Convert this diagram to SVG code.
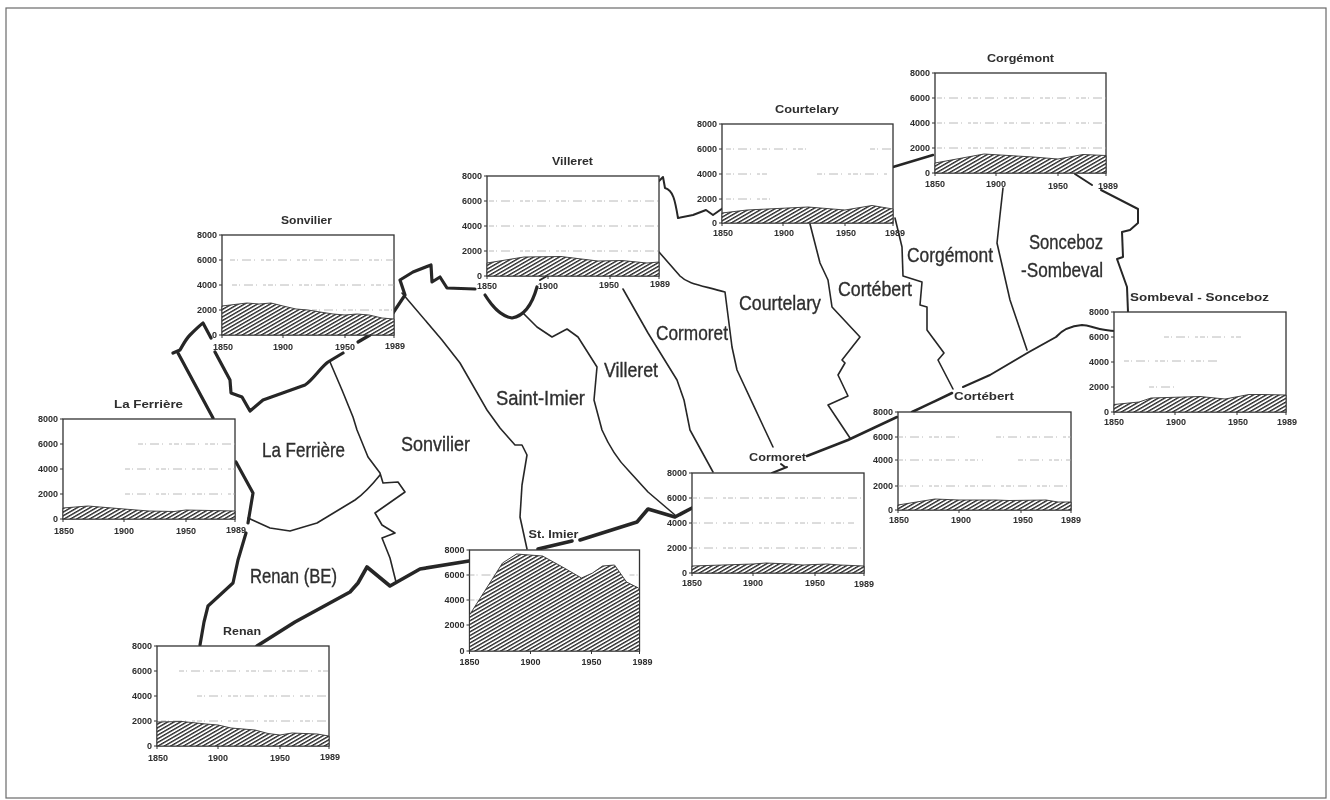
<svg xmlns="http://www.w3.org/2000/svg" width="1330" height="800" viewBox="0 0 1330 800">
<style>
.bg{fill:#fff}
.frame{fill:none;stroke:#6a6a6a;stroke-width:1.2}
.b{fill:none;stroke:#262626;stroke-linejoin:round;stroke-linecap:round}
.t1{stroke-width:1.6}.t2{stroke-width:2}.t25{stroke-width:2.5}.t3{stroke-width:3.2}.t4{stroke-width:3.6}
.box{fill:#fff;stroke:#333;stroke-width:1.3}
.area{fill:url(#hatch);stroke:#333;stroke-width:.9}
.grid{fill:none;stroke:#a8a8a8;stroke-width:.8;stroke-dasharray:5 2 1 4 9 3 1 6 3 2}
.tick{fill:none;stroke:#333;stroke-width:1}
text{font-family:"Liberation Sans",Arial,sans-serif;fill:#2e2e2e}
.ax{font-size:9px;font-weight:700}
.yl{text-anchor:end}.xl{text-anchor:middle}
.ti{font-size:11.5px;font-weight:700}
.map{font-size:21px;stroke:#2e2e2e;stroke-width:.35}
</style>
<defs>
<pattern id="hatch" width="3.2" height="3.2" patternUnits="userSpaceOnUse" patternTransform="rotate(-30)">
<rect width="3.2" height="3.2" fill="#fff"/>
<rect width="3.2" height="1.4" fill="#2a2a2a"/>
</pattern>
<filter id="soft" x="0" y="0" width="100%" height="100%"><feGaussianBlur stdDeviation="0.3"/></filter>
</defs>
<rect class="bg" width="1330" height="800"/>
<rect class="frame" x="6" y="8" width="1320" height="790"/>
<g filter="url(#soft)">
<g id="connectors">
<path class="b t3" d="M173 353L180 350C184 343 186 339 190 335C195 330 199 326 203 323L211 338"/>
<path class="b t3" d="M178 353L213 418"/>
<path class="b t3" d="M236 462L253 493L248 523"/>
<path class="b t3" d="M246 533L238 560L233 583L220 595L208 606L204 622L200 645"/>
<path class="b t3" d="M215 352L230 380L231 393L242 397L250 411L263 400L305 385C313 380 320 368 328 362L343 353"/>
<path class="b t3" d="M358 342L370 335"/>
<path class="b t3" d="M393 313L405 295L400 280L413 272L431 265L432 282L440 277L447 288L475 289"/>
<path class="b t3" d="M485 295C492 306 500 316 512 318C524 316 532 305 537 287"/>
<path class="b t2" d="M540 280L547 276"/>
<path class="b t2" d="M658 182L663 177L665 188C673 190 675 200 678 218L693 215L706 210L713 215L723 208"/>
<path class="b t25" d="M893 167L933 155"/>
<path class="b t2" d="M1075 174L1092 185"/>
<path class="b t2" d="M1101 190L1138 209L1138 223L1130 230L1122 232L1123 257L1117 259L1127 287L1128 312"/>
<path class="b t4" d="M257 646L295 622L350 592L358 583L367 567L390 586L397 582L420 569L469 561"/>
<path class="b t4" d="M538 549L572 541"/>
<path class="b t4" d="M580 540L637 522L648 509L675 517L692 508"/>
<path class="b t2" d="M772 473L787 467M781 464L785 467"/>
<path class="b t25" d="M807 456L848 440L897 417"/>
<path class="b t25" d="M912 412L952 393"/>
<path class="b t2" d="M963 387L990 375L1029 352L1056 337C1062 330 1070 326 1082 325C1090 325 1100 331 1116 331"/>
<path class="b t1" d="M330 362L342 390L353 417L357 430L368 457L380 473L383 483L398 482L405 492L375 513L382 525L395 533L382 538L390 558L396 582"/>
<path class="b t1" d="M248 518L270 528L290 531L317 523L355 500C365 493 372 485 380 475"/>
<path class="b t1" d="M402 293L442 340L460 363L487 410L500 428L515 445L522 445L527 455L522 485L520 517L527 549"/>
<path class="b t1" d="M523 313L537 327L552 337L567 329L578 337L597 367L594 400L602 430C610 448 618 460 628 470L648 492L675 515"/>
<path class="b t1" d="M623 289L648 333L677 380L684 400L690 430L713 472"/>
<path class="b t1" d="M659 252L680 276C688 284 700 285 725 292L732 347L737 370L765 430L773 447"/>
<path class="b t1" d="M810 224L820 263L828 280L832 307L860 337L842 360L845 363L838 375L848 396L828 405L836 417L850 438"/>
<path class="b t1" d="M895 218L902 247L903 276L922 282L920 305L927 307L927 330L944 353L938 360L953 389"/>
<path class="b t1" d="M1003 188L1000 215L997 243L1010 300L1027 350"/>
</g>
<g id="map-labels">
<text class="map" x="262" y="457" textLength="83" lengthAdjust="spacingAndGlyphs">La Ferrière</text>
<text class="map" x="401" y="451" textLength="69" lengthAdjust="spacingAndGlyphs">Sonvilier</text>
<text class="map" x="250" y="583" textLength="87" lengthAdjust="spacingAndGlyphs">Renan (BE)</text>
<text class="map" x="496" y="405" textLength="89" lengthAdjust="spacingAndGlyphs">Saint-Imier</text>
<text class="map" x="604" y="377" textLength="54" lengthAdjust="spacingAndGlyphs">Villeret</text>
<text class="map" x="656" y="340" textLength="72" lengthAdjust="spacingAndGlyphs">Cormoret</text>
<text class="map" x="739" y="310" textLength="82" lengthAdjust="spacingAndGlyphs">Courtelary</text>
<text class="map" x="838" y="296" textLength="74" lengthAdjust="spacingAndGlyphs">Cortébert</text>
<text class="map" x="907" y="262" textLength="86" lengthAdjust="spacingAndGlyphs">Corgémont</text>
<text class="map" x="1029" y="249" textLength="74" lengthAdjust="spacingAndGlyphs">Sonceboz</text>
<text class="map" x="1021" y="277" textLength="82" lengthAdjust="spacingAndGlyphs">-Sombeval</text>
</g>
<g id="sonvilier" transform="translate(222 235)">
<text class="ti" x="59" y="-11" textLength="51" lengthAdjust="spacingAndGlyphs">Sonvilier</text>
<rect class="box" width="172" height="100"/>
<path class="grid" d="M8 25H172M10 50H172M90 75H172"/>
<path class="area" d="M0 100V71L25 68L37 69L49 68L61 71L74 74L86 75L98 77L111 79L123 80L135 79L147 80L160 83L172 84V100Z"/>
<path class="tick" d="M-3 0H0M-3 25H0M-3 50H0M-3 75H0M-3 100H0M0 100V103M61 100V103M123 100V103M172 100V103"/>
<text class="ax yl" x="-5" y="3">8000</text><text class="ax yl" x="-5" y="28">6000</text><text class="ax yl" x="-5" y="53">4000</text><text class="ax yl" x="-5" y="78">2000</text><text class="ax yl" x="-5" y="103">0</text>
<text class="ax xl" x="1" y="115">1850</text><text class="ax xl" x="61" y="115">1900</text><text class="ax xl" x="123" y="115">1950</text><text class="ax xl" x="173" y="114">1989</text>
</g>
<g id="la-ferriere" transform="translate(63 419)">
<text class="ti" x="51" y="-11" textLength="69" lengthAdjust="spacingAndGlyphs">La Ferrière</text>
<rect class="box" width="172" height="100"/>
<path class="grid" d="M75 25H172M62 50H172M62 75H172"/>
<path class="area" d="M0 100V89L25 87L61 90L86 92L111 92.500L123 91L172 92V100Z"/>
<path class="tick" d="M-3 0H0M-3 25H0M-3 50H0M-3 75H0M-3 100H0M0 100V103M61 100V103M123 100V103M172 100V103"/>
<text class="ax yl" x="-5" y="3">8000</text><text class="ax yl" x="-5" y="28">6000</text><text class="ax yl" x="-5" y="53">4000</text><text class="ax yl" x="-5" y="78">2000</text><text class="ax yl" x="-5" y="103">0</text>
<text class="ax xl" x="1" y="115">1850</text><text class="ax xl" x="61" y="115">1900</text><text class="ax xl" x="123" y="115">1950</text><text class="ax xl" x="173" y="114">1989</text>
</g>
<g id="renan" transform="translate(157 646)">
<text class="ti" x="66" y="-11" textLength="38" lengthAdjust="spacingAndGlyphs">Renan</text>
<rect class="box" width="172" height="100"/>
<path class="grid" d="M22 25H172M40 50H172M4 75H172"/>
<path class="area" d="M0 100V76L25 75.500L49 78L61 79L74 82L98 84L111 87.500L123 89L135 87L160 88L172 90V100Z"/>
<path class="tick" d="M-3 0H0M-3 25H0M-3 50H0M-3 75H0M-3 100H0M0 100V103M61 100V103M123 100V103M172 100V103"/>
<text class="ax yl" x="-5" y="3">8000</text><text class="ax yl" x="-5" y="28">6000</text><text class="ax yl" x="-5" y="53">4000</text><text class="ax yl" x="-5" y="78">2000</text><text class="ax yl" x="-5" y="103">0</text>
<text class="ax xl" x="1" y="115">1850</text><text class="ax xl" x="61" y="115">1900</text><text class="ax xl" x="123" y="115">1950</text><text class="ax xl" x="173" y="114">1989</text>
</g>
<g id="st-imier" transform="translate(469.500 550)">
<text class="ti" x="59" y="-12" textLength="50" lengthAdjust="spacingAndGlyphs">St. Imier</text>
<rect class="box" width="170" height="101"/>
<path class="grid" d="M0 25H30M0 50H15M160 25H170"/>
<path class="area" d="M0 101V65L33 13L47 4L73 6L93 17L112 28L123 23L133 16L145 15L157 32L169 38L170 39V101Z"/>
<path class="tick" d="M-3 0H0M-3 25H0M-3 50H0M-3 75H0M-3 101H0M0 101V104M61 101V104M122 101V104M170 101V104"/>
<text class="ax yl" x="-5" y="3">8000</text><text class="ax yl" x="-5" y="28">6000</text><text class="ax yl" x="-5" y="53">4000</text><text class="ax yl" x="-5" y="78">2000</text><text class="ax yl" x="-5" y="104">0</text>
<text class="ax xl" x="0" y="115">1850</text><text class="ax xl" x="61" y="115">1900</text><text class="ax xl" x="122" y="115">1950</text><text class="ax xl" x="173" y="115">1989</text>
</g>
<g id="villeret" transform="translate(487 176)">
<text class="ti" x="65" y="-11" textLength="41" lengthAdjust="spacingAndGlyphs">Villeret</text>
<rect class="box" width="172" height="100"/>
<path class="grid" d="M2 25H172M2 50H172M2 75H172"/>
<path class="area" d="M0 100V87L37 81L74 80.500L111 85L135 84.500L160 87L172 86V100Z"/>
<path class="tick" d="M-3 0H0M-3 25H0M-3 50H0M-3 75H0M-3 100H0M0 100V103M61 100V103M123 100V103M172 100V103"/>
<text class="ax yl" x="-5" y="3">8000</text><text class="ax yl" x="-5" y="28">6000</text><text class="ax yl" x="-5" y="53">4000</text><text class="ax yl" x="-5" y="78">2000</text><text class="ax yl" x="-5" y="103">0</text>
<text class="ax xl" x="0" y="113">1850</text><text class="ax xl" x="61" y="113">1900</text><text class="ax xl" x="122" y="112">1950</text><text class="ax xl" x="173" y="111">1989</text>
</g>
<g id="courtelary" transform="translate(722 124)">
<text class="ti" x="53" y="-11" textLength="64" lengthAdjust="spacingAndGlyphs">Courtelary</text>
<rect class="box" width="171" height="99"/>
<path class="grid" d="M4 25H85M148 25H171M4 50H45M95 50H165M4 75H52"/>
<path class="area" d="M0 99V89L25 86L86 83L123 86L150 81.500L171 85V99Z"/>
<path class="tick" d="M-3 0H0M-3 25H0M-3 50H0M-3 75H0M-3 99H0M0 99V102M61 99V102M123 99V102M171 99V102"/>
<text class="ax yl" x="-5" y="3">8000</text><text class="ax yl" x="-5" y="28">6000</text><text class="ax yl" x="-5" y="53">4000</text><text class="ax yl" x="-5" y="78">2000</text><text class="ax yl" x="-5" y="102">0</text>
<text class="ax xl" x="1" y="112">1850</text><text class="ax xl" x="62" y="112">1900</text><text class="ax xl" x="124" y="112">1950</text><text class="ax xl" x="173" y="112">1989</text>
</g>
<g id="corgemont" transform="translate(935 73)">
<text class="ti" x="52" y="-11" textLength="67" lengthAdjust="spacingAndGlyphs">Corgémont</text>
<rect class="box" width="171" height="100"/>
<path class="grid" d="M2 25H171M2 50H171M2 75H171"/>
<path class="area" d="M0 100V90L49 81L98 84L123 86L148 81.500L171 82.500V100Z"/>
<path class="tick" d="M-3 0H0M-3 25H0M-3 50H0M-3 75H0M-3 100H0M0 100V103M61 100V103M123 100V103M171 100V103"/>
<text class="ax yl" x="-5" y="3">8000</text><text class="ax yl" x="-5" y="28">6000</text><text class="ax yl" x="-5" y="53">4000</text><text class="ax yl" x="-5" y="78">2000</text><text class="ax yl" x="-5" y="103">0</text>
<text class="ax xl" x="0" y="114">1850</text><text class="ax xl" x="61" y="114">1900</text><text class="ax xl" x="123" y="116">1950</text><text class="ax xl" x="173" y="116">1989</text>
</g>
<g id="cormoret" transform="translate(692 473)">
<text class="ti" x="57" y="-12" textLength="57" lengthAdjust="spacingAndGlyphs">Cormoret</text>
<rect class="box" width="172" height="100"/>
<path class="grid" d="M0 25H172M0 50H162M0 75H172"/>
<path class="area" d="M0 100V93L61 91L74 90L98 91L111 92L135 91L148 92L172 93V100Z"/>
<path class="tick" d="M-3 0H0M-3 25H0M-3 50H0M-3 75H0M-3 100H0M0 100V103M61 100V103M123 100V103M172 100V103"/>
<text class="ax yl" x="-5" y="3">8000</text><text class="ax yl" x="-5" y="28">6000</text><text class="ax yl" x="-5" y="53">4000</text><text class="ax yl" x="-5" y="78">2000</text><text class="ax yl" x="-5" y="103">0</text>
<text class="ax xl" x="0" y="113">1850</text><text class="ax xl" x="61" y="113">1900</text><text class="ax xl" x="123" y="113">1950</text><text class="ax xl" x="172" y="114">1989</text>
</g>
<g id="cortebert" transform="translate(898 412)">
<text class="ti" x="56" y="-12" textLength="60" lengthAdjust="spacingAndGlyphs">Cortébert</text>
<rect class="box" width="173" height="98"/>
<path class="grid" d="M0 25H65M98 25H173M0 48H85M120 48H173M0 74H173"/>
<path class="area" d="M0 98V93L37 87L61 88L98 88L111 88.500L148 88L160 90L173 90V98Z"/>
<path class="tick" d="M-3 0H0M-3 25H0M-3 48H0M-3 74H0M-3 98H0M0 98V101M61 98V101M123 98V101M173 98V101"/>
<text class="ax yl" x="-5" y="3">8000</text><text class="ax yl" x="-5" y="28">6000</text><text class="ax yl" x="-5" y="51">4000</text><text class="ax yl" x="-5" y="77">2000</text><text class="ax yl" x="-5" y="101">0</text>
<text class="ax xl" x="1" y="111">1850</text><text class="ax xl" x="63" y="111">1900</text><text class="ax xl" x="125" y="111">1950</text><text class="ax xl" x="173" y="111">1989</text>
</g>
<g id="sombeval-sonceboz" transform="translate(1114 312)">
<text class="ti" x="16" y="-11" textLength="139" lengthAdjust="spacingAndGlyphs">Sombeval - Sonceboz</text>
<rect class="box" width="172" height="100"/>
<path class="grid" d="M50 25H128M10 49H105M35 75H63"/>
<path class="area" d="M0 100V92.500L25 90L37 86L86 84.500L111 87L135 82.500L148 82.500L172 83V100Z"/>
<path class="tick" d="M-3 0H0M-3 25H0M-3 50H0M-3 75H0M-3 100H0M0 100V103M61 100V103M123 100V103M172 100V103"/>
<text class="ax yl" x="-5" y="3">8000</text><text class="ax yl" x="-5" y="28">6000</text><text class="ax yl" x="-5" y="53">4000</text><text class="ax yl" x="-5" y="78">2000</text><text class="ax yl" x="-5" y="103">0</text>
<text class="ax xl" x="0" y="113">1850</text><text class="ax xl" x="62" y="113">1900</text><text class="ax xl" x="124" y="113">1950</text><text class="ax xl" x="173" y="113">1989</text>
</g>
</g>
</svg>
